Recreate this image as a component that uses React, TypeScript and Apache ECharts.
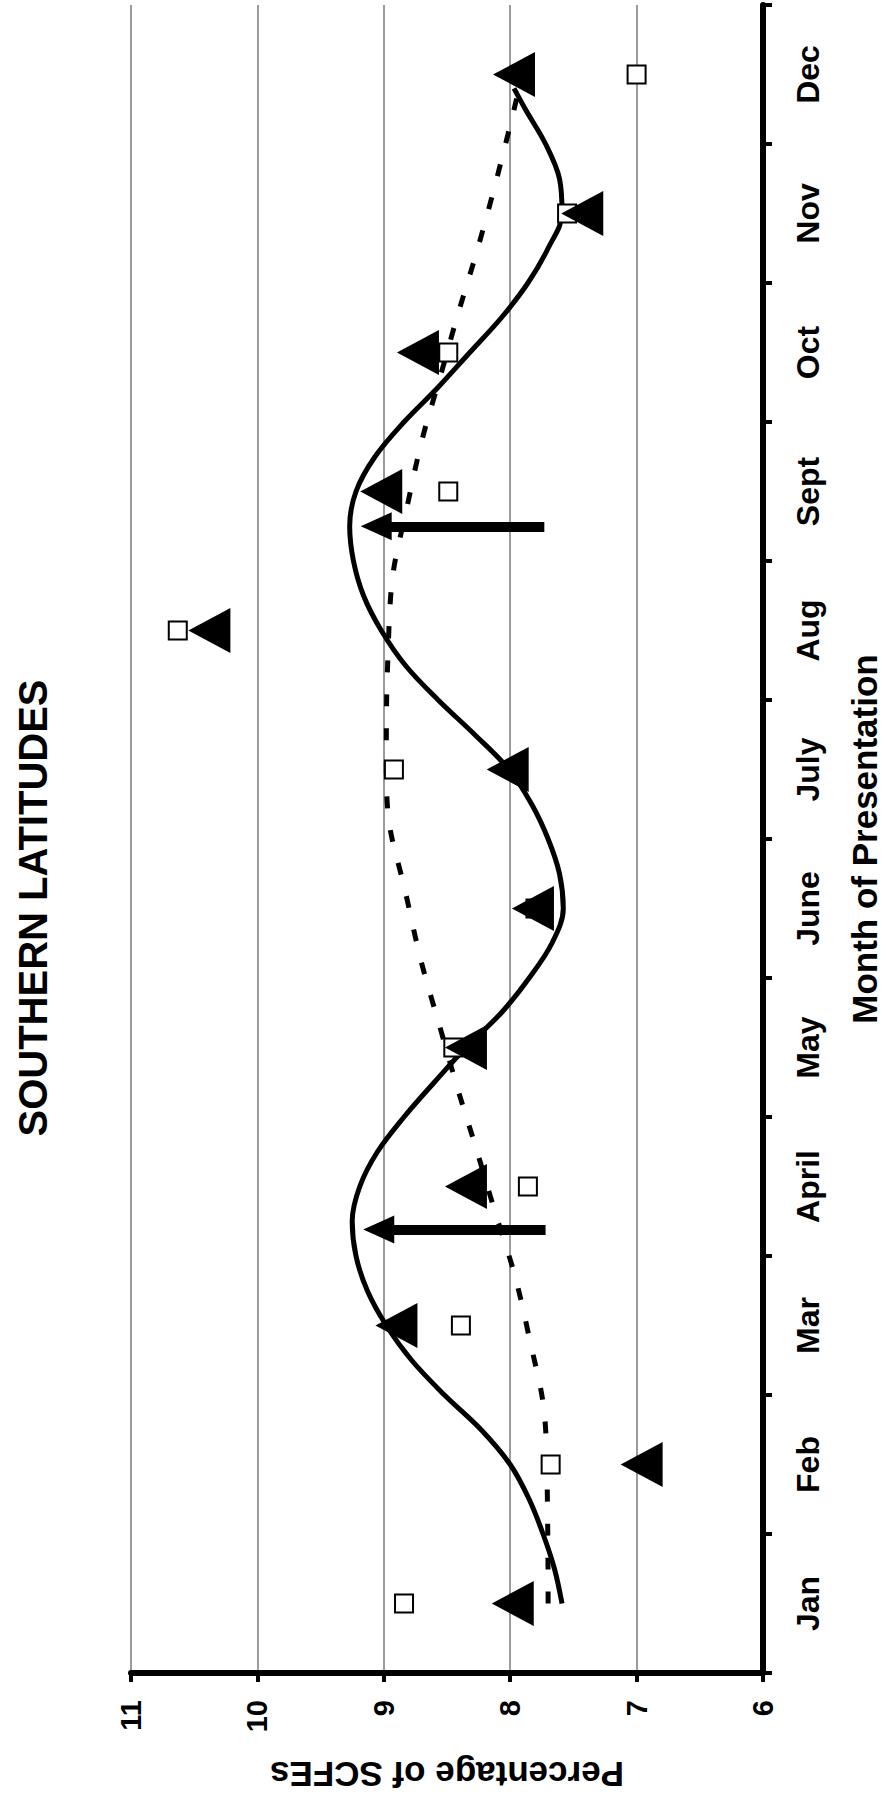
import React, { useEffect, useRef } from "react";
import * as echarts from "echarts";

// ---------- data ----------
const months = ["Jan", "Feb", "Mar", "April", "May", "June", "July", "Aug", "Sept", "Oct", "Nov", "Dec"];
const monthIndex = [0, 1, 2, 3, 4, 5, 6, 7, 8, 9, 10, 11];

// open squares
const squareValues = [8.84, 7.68, 8.39, 7.86, 8.45, 7.8, 8.92, 10.63, 8.49, 8.49, 7.55, 7.0];
// filled triangles
const triangleValues = [7.98, 6.96, 8.9, 8.35, 8.35, 7.82, 8.02, 10.38, 9.02, 8.73, 7.43, 7.97];

// solid fitted curve, read every quarter month (month position, percentage)
const solidCurveMonth = [
  0, 0.25, 0.5, 0.75, 1, 1.25, 1.5, 1.75, 2, 2.25, 2.5, 2.75, 3, 3.25, 3.5, 3.75, 4, 4.25, 4.5, 4.75, 5, 5.25,
  5.5, 5.75, 6, 6.25, 6.5, 6.75, 7, 7.25, 7.5, 7.75, 8, 8.25, 8.5, 8.75, 9, 9.25, 9.5, 9.75, 10, 10.25, 10.5,
  10.75, 10.9,
];
const solidCurveValue = [
  7.59, 7.65, 7.74, 7.85, 8.0, 8.23, 8.52, 8.78, 8.98, 9.13, 9.22, 9.25, 9.19, 9.05, 8.84, 8.6, 8.35, 8.07, 7.85,
  7.67, 7.58, 7.61, 7.7, 7.83, 8.01, 8.28, 8.57, 8.83, 9.02, 9.16, 9.24, 9.27, 9.22, 9.07, 8.84, 8.57, 8.32, 8.07,
  7.86, 7.7, 7.59, 7.61, 7.72, 7.88, 7.97,
];

// dashed fitted curve, read every month
const dashedCurveMonth = [0, 1, 2, 3, 4, 5, 6, 7, 8, 9, 10, 10.9];
const dashedCurveValue = [7.7, 7.71, 7.87, 8.18, 8.51, 8.8, 8.98, 8.96, 8.79, 8.5, 8.18, 7.93];

// arrows (month position, start value, head-centre value)
const arrowMonth = [2.69, 7.75];
const arrowStart = [7.72, 7.73];
const arrowEnd = [9.04, 9.06];

const valueMin = 6;
const valueMax = 11;
const valueStep = 1;

const TITLE = "SOUTHERN LATITUDES";
const X_NAME = "Percentage of SCFEs";
const Y_NAME = "Month of Presentation";

const FONT = '"Liberation Sans", Arial, Helvetica, sans-serif';

export default function App() {
  const ref = useRef<HTMLDivElement>(null);

  useEffect(() => {
    if (!ref.current) return;
    const chart = echarts.init(ref.current, null, { renderer: "svg" });

    const solidData = solidCurveMonth.map((m, i) => [solidCurveValue[i], m]);
    const dashedData = dashedCurveMonth.map((m, i) => [dashedCurveValue[i], m]);
    const squareData = monthIndex.map((m, i) => [squareValues[i], m]);
    const triangleData = monthIndex.map((m, i) => [triangleValues[i], m]);
    const arrowData = arrowMonth.map((m, i) => [
      { coord: [arrowStart[i], m] },
      { coord: [arrowEnd[i], m] },
    ]);

    const option: any = {
      animation: false,
      backgroundColor: "#ffffff",
      grid: {
        left: 131,
        right: 127,
        top: 5,
        bottom: 128,
        containLabel: false,
        outerBoundsMode: "none",
      },
      xAxis: {
        type: "value",
        min: valueMin,
        max: valueMax,
        interval: valueStep,
        inverse: true,
        position: "bottom",
        name: X_NAME,
        nameLocation: "middle",
        nameGap: 84,
        nameRotate: 180,
        nameMoveOverlap: false,
        nameTextStyle: { fontSize: 35, fontWeight: "bold", color: "#000", fontFamily: FONT },
        axisLine: { show: true, onZero: false, lineStyle: { color: "#000", width: 6 } },
        axisTick: { show: true, length: 9, lineStyle: { color: "#000", width: 4 } },
        axisLabel: {
          rotate: 90,
          margin: 27,
          fontSize: 29,
          fontWeight: "bold",
          color: "#000",
          fontFamily: FONT,
          showMinLabel: true,
          showMaxLabel: true,
          hideOverlap: false,
        },
        splitLine: { show: true, lineStyle: { color: "#7a7a7a", width: 1.5 } },
      },
      yAxis: [
        {
          type: "category",
          data: months,
          position: "right",
          boundaryGap: true,
          name: Y_NAME,
          nameLocation: "middle",
          nameGap: 84,
          nameRotate: 90,
          nameMoveOverlap: false,
          nameTextStyle: { fontSize: 35, fontWeight: "bold", color: "#000", fontFamily: FONT },
          axisLine: { show: true, onZero: false, lineStyle: { color: "#000", width: 6 } },
          axisTick: { show: true, length: 9, interval: 0, alignWithLabel: false, lineStyle: { color: "#000", width: 4 } },
          axisLabel: {
            rotate: 90,
            margin: 29,
            interval: 0,
            fontSize: 32,
            fontWeight: "bold",
            color: "#000",
            fontFamily: FONT,
          },
          splitLine: { show: false },
        },
        {
          type: "value",
          min: -0.5,
          max: 11.5,
          show: false,
          position: "left",
          axisLine: { onZero: false },
          splitLine: { show: false },
        },
      ],
      graphic: [
        {
          type: "text",
          x: 33,
          y: 908,
          rotation: Math.PI / 2,
          style: {
            text: TITLE,
            fontSize: 40,
            fontWeight: "bold",
            fontFamily: FONT,
            fill: "#000",
            align: "center",
            verticalAlign: "middle",
            textAlign: "center",
            textVerticalAlign: "middle",
          },
        },
      ],
      series: [
        {
          name: "dashed fit",
          type: "line",
          yAxisIndex: 1,
          data: dashedData,
          smooth: 0.5,
          symbol: "none",
          silent: true,
          z: 2,
          lineStyle: { color: "#000", width: 5, type: [12, 22] },
        },
        {
          name: "solid fit",
          type: "line",
          yAxisIndex: 1,
          data: solidData,
          smooth: 0.35,
          symbol: "none",
          silent: true,
          z: 2,
          lineStyle: { color: "#000", width: 5, type: "solid" },
          markLine: {
            silent: true,
            symbol: ["none", "triangle"],
            symbolSize: [28, 31],
            label: { show: false },
            lineStyle: { color: "#000", width: 10, type: "solid" },
            itemStyle: { color: "#000" },
            data: arrowData,
          },
        },
        {
          name: "squares",
          type: "scatter",
          yAxisIndex: 1,
          data: squareData,
          symbol: "rect",
          symbolSize: 18,
          z: 3,
          itemStyle: { color: "#fff", borderColor: "#000", borderWidth: 2, opacity: 1 },
        },
        {
          name: "triangles",
          type: "scatter",
          yAxisIndex: 1,
          data: triangleData,
          symbol: "triangle",
          symbolRotate: 90,
          symbolSize: [45, 42],
          z: 4,
          itemStyle: { color: "#000", opacity: 1 },
        },
      ],
    };

    chart.setOption(option);
    return () => {
      chart.dispose();
    };
  }, []);

  return (
    <div
      ref={ref}
      style={{ position: "absolute", left: 0, top: 0, width: 890, height: 1801, background: "#fff" }}
    />
  );
}
